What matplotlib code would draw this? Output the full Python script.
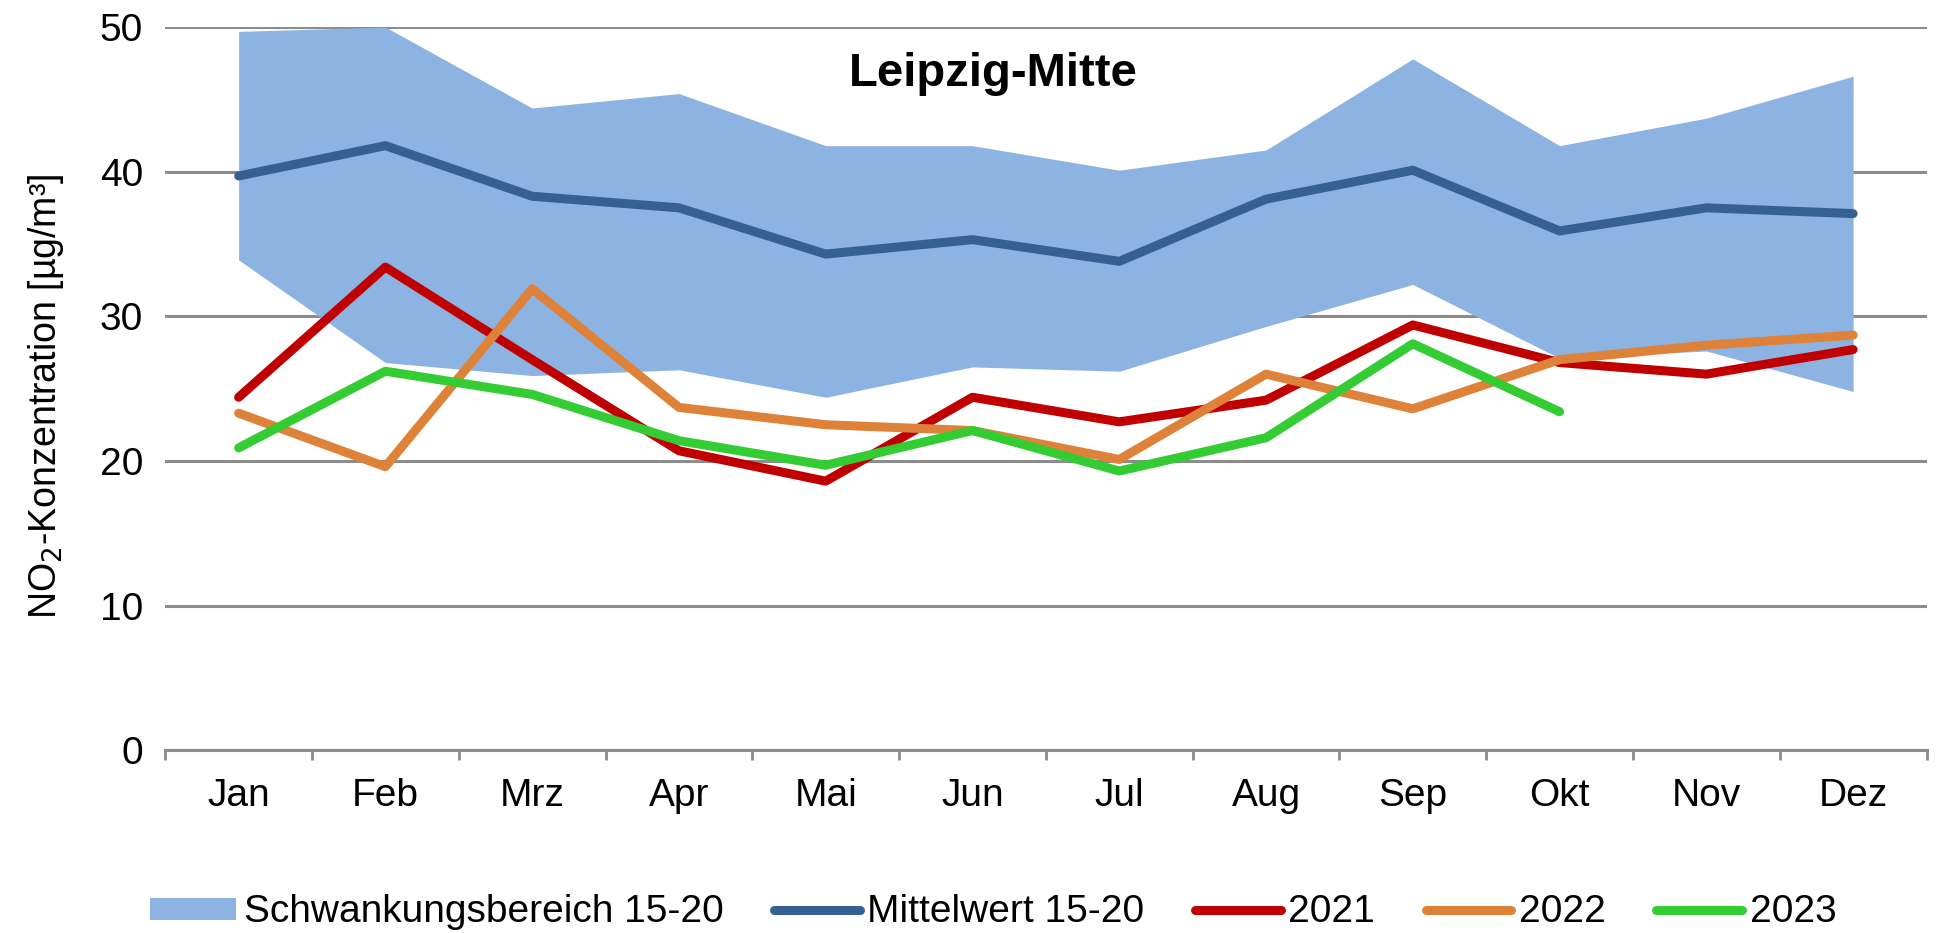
import matplotlib
matplotlib.use("Agg")
import numpy as np
import matplotlib.pyplot as plt
from matplotlib.patches import Patch
from matplotlib.lines import Line2D

# ============================================================================
# DATA
# ============================================================================
months = ["Jan", "Feb", "Mrz", "Apr", "Mai", "Jun", "Jul", "Aug", "Sep", "Okt", "Nov", "Dez"]

band_upper = [49.7, 50.0, 44.4, 45.4, 41.8, 41.8, 40.1, 41.5, 47.8, 41.8, 43.7, 46.6]
band_lower = [33.9, 26.8, 25.9, 26.3, 24.4, 26.5, 26.2, 29.3, 32.2, 27.1, 27.6, 24.8]
mean_15_20 = [39.7, 41.8, 38.3, 37.5, 34.3, 35.3, 33.8, 38.1, 40.1, 35.9, 37.5, 37.1]
y2021 = [24.4, 33.4, 27.0, 20.7, 18.6, 24.4, 22.7, 24.2, 29.4, 26.8, 26.0, 27.7]
y2022 = [23.3, 19.6, 31.9, 23.7, 22.5, 22.1, 20.1, 26.0, 23.6, 27.0, 28.0, 28.7]
y2023 = [20.9, 26.2, 24.6, 21.4, 19.7, 22.1, 19.3, 21.6, 28.1, 23.4, np.nan, np.nan]

C_BAND = "#8DB3E2"
C_MEAN = "#376092"
C_2021 = "#C00000"
C_2022 = "#DE8239"
C_2023 = "#33CC33"
C_GRID = "#8C8C8C"

plt.rcParams["font.family"] = ["Liberation Sans", "DejaVu Sans"]

# ============================================================================
# PLOT
# ============================================================================
fig = plt.figure(figsize=(19.44, 9.33), dpi=100)
ax = fig.add_axes([0.085, 0.196, 0.906, 0.775])

x = np.arange(len(months))
lw = 6.5

ax.fill_between(x, band_lower, band_upper, color=C_BAND, linewidth=0, zorder=2)
ax.plot(x, mean_15_20, color=C_MEAN, lw=lw, solid_capstyle="round", zorder=3)
ax.plot(x, y2021, color=C_2021, lw=lw, solid_capstyle="round", zorder=4)
ax.plot(x, y2022, color=C_2022, lw=lw, solid_capstyle="round", zorder=5)
ax.plot(x, y2023, color=C_2023, lw=lw, solid_capstyle="round", zorder=6)

ax.set_xlim(-0.5, len(months) - 0.5)
ax.set_ylim(0, 50)
ax.set_yticks(np.arange(0, 51, 10))
ax.yaxis.grid(True, color=C_GRID, lw=2.2)
ax.set_axisbelow(True)
ax.tick_params(axis="y", length=0, labelsize=28, pad=16)

# category boundaries get the tick marks, labels sit at the centres
ax.set_xticks(np.arange(-0.5, len(months), 1.0))
ax.set_xticklabels([])
ax.set_xticks(x, minor=True)
ax.set_xticklabels(months, minor=True)
ax.tick_params(axis="x", which="major", length=7, width=2, color=C_GRID)
ax.tick_params(axis="x", which="minor", length=0, labelsize=28, pad=20)

for s in ["top", "right", "left"]:
    ax.spines[s].set_visible(False)
ax.spines["bottom"].set_color(C_GRID)
ax.spines["bottom"].set_linewidth(2.2)

ax.set_ylabel("NO$_2$-Konzentration [µg/m³]", fontsize=27)
ax.yaxis.set_label_coords((66 - 165) / 1761, 0.49)

ax.text(0.47, 0.935, "Leipzig-Mitte", transform=ax.transAxes, ha="center", va="center",
        fontsize=34, fontweight="bold")

handles = [
    Patch(facecolor=C_BAND, edgecolor="none"),
    Line2D([], [], color=C_MEAN, lw=lw, solid_capstyle="round"),
    Line2D([], [], color=C_2021, lw=lw, solid_capstyle="round"),
    Line2D([], [], color=C_2022, lw=lw, solid_capstyle="round"),
    Line2D([], [], color=C_2023, lw=lw, solid_capstyle="round"),
]
labels = ["Schwankungsbereich 15-20", "Mittelwert 15-20", "2021", "2022", "2023"]
fig.legend(handles, labels, loc="center", bbox_to_anchor=(0.511, 0.022), ncol=5,
           frameon=False, fontsize=28, handlelength=2.2, handleheight=0.5,
           handletextpad=0.2, columnspacing=1.3, borderpad=0.0)

fig.savefig("out.png", dpi=100)
